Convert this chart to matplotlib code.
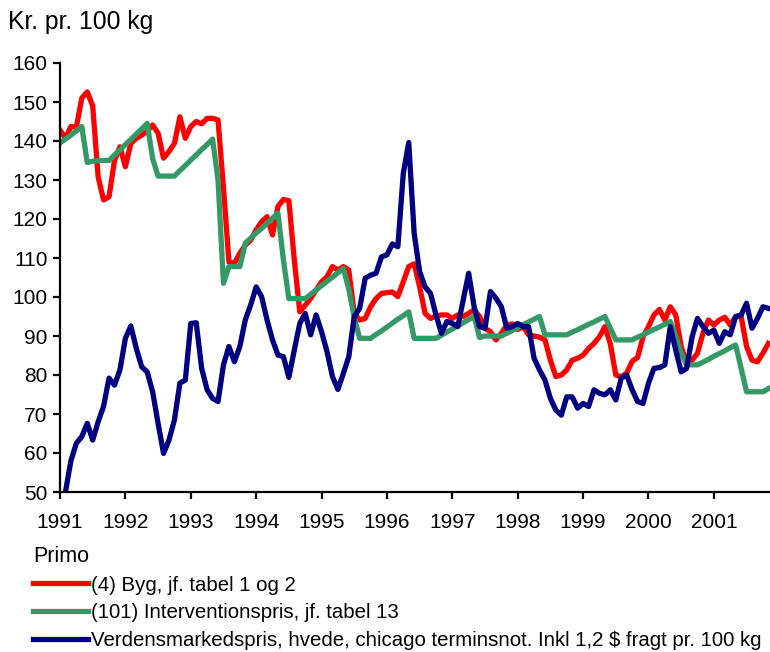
import numpy as np
import matplotlib
matplotlib.use("Agg")
import matplotlib.pyplot as plt

plt.rcParams['font.family'] = ['Liberation Sans', 'DejaVu Sans']

# maanedlige vaerdier, jan 1991 - nov 2001 (kr. pr. 100 kg)
years = [1991, 1992, 1993, 1994, 1995, 1996, 1997, 1998, 1999, 2000, 2001]

byg = [142.8, 140.7, 143.7, 143.5, 151.0, 152.6, 149.0, 130.8, 124.9, 125.7, 135.0, 138.5,
       133.4, 139.4, 140.7, 141.5, 142.5, 144.1, 142.0, 135.6, 137.3, 139.4, 146.2, 140.7,
       143.7, 145.0, 144.4, 145.8, 145.8, 145.4, 128.0, 109.0, 108.6, 111.2, 113.3, 114.6,
       117.2, 119.3, 120.6, 115.9, 123.2, 125.0, 124.7, 109.5, 96.2, 97.9, 99.6, 101.8,
       103.9, 105.2, 107.8, 106.9, 107.8, 106.9, 95.8, 94.1, 94.5, 97.5, 99.6, 100.9,
       101.1, 101.3, 100.1, 103.9, 107.8, 108.5, 102.6, 95.8, 94.5, 95.1, 95.4, 95.4,
       94.5, 95.4, 95.0, 95.8, 96.7, 95.0, 92.0, 91.1, 89.0, 90.7, 92.8, 93.1,
       91.7, 92.4, 90.3, 90.0, 89.7, 89.0, 83.8, 79.6, 80.0, 81.3, 83.8, 84.3,
       85.1, 86.8, 88.1, 89.8, 92.4, 88.0, 80.0, 79.5, 80.5, 83.5, 84.5, 89.8,
       92.4, 95.4, 96.8, 94.1, 97.5, 95.4, 87.3, 83.0, 83.8, 85.6, 90.7, 94.1,
       92.8, 94.1, 94.8, 92.8, 95.0, 95.0, 87.3, 83.8, 83.4, 85.6, 88.1]

intervention = [139.5, 140.5, 141.5, 142.6, 143.7, 134.5, 134.8, 135.0, 135.0, 135.0, 136.4, 137.7,
                139.1, 140.4, 141.8, 143.1, 144.5, 135.5, 131.0, 131.0, 131.0, 131.0, 132.4, 133.7,
                135.1, 136.4, 137.8, 139.1, 140.5, 130.0, 103.5, 107.8, 107.8, 107.8, 113.8, 115.1,
                116.4, 117.6, 118.9, 120.2, 121.5, 109.5, 99.6, 99.6, 99.6, 99.6, 100.7, 101.8,
                102.9, 104.0, 105.1, 106.2, 107.3, 102.0, 94.7, 89.4, 89.4, 89.4, 90.4, 91.3,
                92.3, 93.3, 94.3, 95.2, 96.2, 89.4, 89.4, 89.4, 89.4, 89.4, 90.2, 91.0,
                91.8, 92.6, 93.4, 94.2, 95.0, 89.6, 90.0, 90.0, 90.0, 90.0, 90.7, 91.4,
                92.1, 92.9, 93.6, 94.3, 95.0, 90.3, 90.3, 90.3, 90.3, 90.3, 91.0, 91.6,
                92.3, 93.0, 93.6, 94.3, 95.0, 92.0, 89.0, 89.0, 89.0, 89.0, 89.7, 90.3,
                91.0, 91.7, 92.3, 93.0, 93.7, 90.0, 85.6, 82.6, 82.6, 82.6, 83.3, 84.0,
                84.8, 85.5, 86.2, 87.0, 87.7, 81.7, 75.7, 75.7, 75.7, 75.7, 76.5]

verden = [45.0, 50.0, 58.0, 62.5, 64.2, 67.6, 63.3, 68.0, 72.0, 79.2, 77.4, 81.3,
          89.4, 92.6, 86.8, 82.1, 80.8, 75.7, 67.6, 59.9, 63.3, 68.5, 77.9, 78.7,
          93.2, 93.4, 81.7, 76.2, 74.0, 73.2, 82.6, 87.3, 83.4, 87.3, 94.1, 98.0,
          102.6, 100.1, 94.1, 89.0, 85.1, 84.7, 79.4, 86.4, 93.2, 95.8, 90.3, 95.4,
          91.1, 86.0, 79.6, 76.3, 80.4, 84.7, 95.0, 97.1, 104.8, 105.6, 106.1, 110.3,
          110.8, 113.6, 112.9, 131.7, 139.6, 116.3, 106.5, 102.6, 100.9, 95.4, 90.7, 93.7,
          93.2, 92.4, 99.2, 106.1, 97.5, 92.4, 92.0, 101.4, 99.7, 97.5, 92.0, 92.4,
          93.2, 92.4, 92.4, 84.3, 81.3, 78.7, 74.0, 71.0, 69.7, 74.4, 74.4, 71.5,
          72.7, 71.9, 76.2, 75.3, 74.9, 76.2, 73.6, 79.2, 80.0, 76.2, 73.2, 72.7,
          77.9, 81.7, 81.9, 82.6, 92.4, 86.4, 80.8, 81.7, 89.8, 94.5, 92.4, 90.7,
          91.5, 88.1, 91.1, 90.3, 95.0, 95.4, 98.4, 92.0, 94.5, 97.5, 97.1]

labels = ['(4) Byg, jf. tabel 1 og 2',
          '(101) Interventionspris, jf. tabel 13',
          'Verdensmarkedspris, hvede, chicago terminsnot. Inkl 1,2 $ fragt pr. 100 kg']
colors = ['#FF0000', '#339966', '#000080']

months = np.arange(len(byg))

fig = plt.figure(figsize=(7.7, 6.52), dpi=100)
ax = fig.add_axes([60 / 770, 1 - 492 / 652, 710 / 770, 429 / 652])

for serie, lab, col in zip([byg, intervention, verden], labels, colors):
    ax.plot(months, serie, color=col, lw=3.8, label=lab, solid_joinstyle='round')

ax.set_xlim(0, 130.3)
ax.set_ylim(50, 160)
ax.set_yticks(np.arange(50, 161, 10))
ax.set_xticks([12 * i for i in range(len(years))])
ax.set_xticklabels([str(y) for y in years])

for s in ['top', 'right']:
    ax.spines[s].set_visible(False)
for s in ['left', 'bottom']:
    ax.spines[s].set_linewidth(1.6)
ax.tick_params(axis='both', width=1.6, length=5, labelsize=15, direction='out')
ax.tick_params(axis='x', pad=10)
ax.tick_params(axis='y', pad=4)

fig.text(8 / 770, 1 - 22 / 652, 'Kr. pr. 100 kg', fontsize=17.8, va='center', ha='left')

leg = fig.legend(loc='upper left', bbox_to_anchor=(33 / 770, 1 - 546 / 652),
                 frameon=False, title='Primo', title_fontsize=15.5, fontsize=14.7,
                 alignment='left', borderpad=0, borderaxespad=0,
                 handlelength=2.7, handletextpad=0.15, labelspacing=0.42)

fig.savefig('out.png', dpi=100)
